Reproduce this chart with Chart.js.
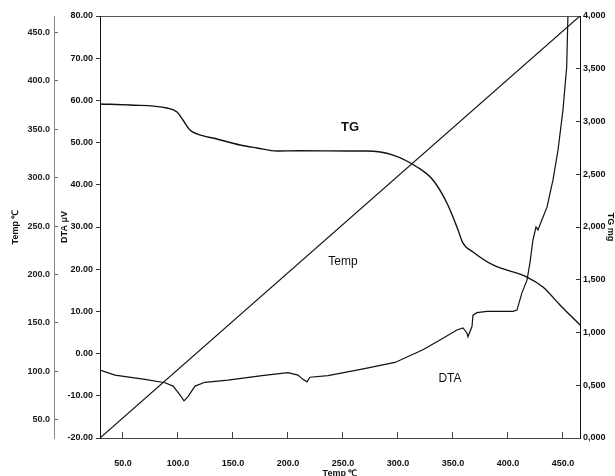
<!DOCTYPE html>
<html>
<head>
<meta charset="utf-8">
<script src="https://cdn.jsdelivr.net/npm/chart.js@4.4.1/dist/chart.umd.min.js"></script>
<style>
  html, body { margin: 0; padding: 0; background: #fff; }
  #chart { display: block; }
</style>
</head>
<body>
<canvas id="chart" width="615" height="476"></canvas>
<script>
// TG curve (right axis, mg)
let tgTemp = [29.1, 56.4, 90.0, 99.1, 104.5, 110.9, 117.3, 135.5, 156.4, 171.8, 190.0, 210.9, 256.4,
              271.8, 295.5, 317.3, 331.8, 344.5, 353.6, 359.1, 368.2, 386.4, 417.3, 431.8, 447.3, 465.5]
let tgMass = [3.166, 3.156, 3.128, 3.09, 3.014, 2.919, 2.882, 2.834, 2.777, 2.749, 2.720, 2.723, 2.720,
              2.720, 2.682, 2.569, 2.445, 2.227, 2.0, 1.848, 1.763, 1.64, 1.526, 1.431, 1.261, 1.071]

// DTA curve (left axis, uV)
let dtaTemp = [29.1, 42.7, 70.0, 88.2, 95.5, 101.8, 105.5, 109.1, 115.5, 124.5, 145.5, 176.4, 200.0,
               209.1, 213.6, 217.3, 220.0, 236.4, 267.3, 297.3, 322.7, 338.2, 353.6, 359.1, 362.7, 363.6,
               367.3, 368.2, 371.8, 380.9, 404.5, 408.2, 412.7, 417.3, 420.0, 422.7, 425.5, 427.3, 430.9,
               435.5, 440.9, 445.5, 450.0, 453.4, 454.5]
let dtaSignal = [-3.9, -5.1, -6.1, -6.9, -7.7, -9.8, -11.2, -10.2, -7.7, -6.8, -6.3, -5.2, -4.5,
                 -5.1, -6.1, -6.7, -5.6, -5.2, -3.7, -2.1, 0.9, 3.2, 5.6, 6.1, 4.9, 4.0,
                 6.4, 9.1, 9.7, 10.0, 10.0, 10.3, 14.4, 17.4, 21.5, 26.9, 30.0, 29.3, 31.7,
                 34.7, 41.1, 48.2, 57.7, 67.9, 79.8]

// furnace temperature line (outer left axis)
let lineTemp = [29.1, 465.5]
let lineFurnace = [31, 467]

// tick labels
let tempTicks = [50, 100, 150, 200, 250, 300, 350, 400, 450]
let dtaTicks = [-20, -10, 0, 10, 20, 30, 40, 50, 60, 70, 80]
let tgTicks = [0, 0.5, 1, 1.5, 2, 2.5, 3, 3.5, 4]

// curve names written in the plot (temp, DTA value)
let noteText = ["TG", "Temp", "DTA"]
let noteTemp = [256.4, 250.0, 347.3]
let noteDTA = [53.7, 21.7, -6.0]

const ink = "#111"
const tickFont = { family: "'Liberation Sans Narrow', 'Liberation Sans', Arial, sans-serif", size: 9, weight: "bold" }
const titleFont = { family: "'Liberation Sans', Arial, sans-serif", size: 9, weight: "bold" }

function toPoints(xs, ys){
    return xs.map((x, i) => ({ x: x, y: ys[i] }))
}

function fixedTicks(list){
    return scale => { scale.ticks = list.map(v => ({ value: v })) }
}

const curveLabels = {
    id: "curveLabels",
    afterDatasetsDraw(chart){
        const ctx = chart.ctx
        const xs = chart.scales.x, ys = chart.scales.yDTA
        ctx.save()
        ctx.fillStyle = ink
        ctx.textAlign = "center"
        ctx.textBaseline = "middle"
        for (var i in noteText){
            ctx.font = (noteText[i] == "TG" ? "bold 13px " : "12px ") + "'Liberation Sans Narrow', 'Liberation Sans', Arial, sans-serif"
            ctx.fillText(noteText[i], xs.getPixelForValue(noteTemp[i]), ys.getPixelForValue(noteDTA[i]))
        }
        ctx.restore()
    }
}

function showGraph(){
    new Chart("chart", {
        type: "line",
        data: {
            datasets: [
                { label: "TG", data: toPoints(tgTemp, tgMass), xAxisID: "x", yAxisID: "yTG",
                  borderColor: ink, borderWidth: 1.4, pointRadius: 0, cubicInterpolationMode: "monotone" },
                { label: "DTA", data: toPoints(dtaTemp, dtaSignal), xAxisID: "x", yAxisID: "yDTA",
                  borderColor: ink, borderWidth: 1.2, pointRadius: 0, tension: 0 },
                { label: "Temp", data: toPoints(lineTemp, lineFurnace), xAxisID: "x", yAxisID: "yTemp",
                  borderColor: ink, borderWidth: 1.2, pointRadius: 0 }
            ]
        },
        options: {
            responsive: false,
            animation: false,
            devicePixelRatio: 1,
            layout: { padding: { top: 16, left: 0, right: 0, bottom: 0 } },
            plugins: { legend: { display: false }, tooltip: { enabled: false } },
            scales: {
                x: {
                    type: "linear", position: "bottom", min: 29.1, max: 465.5,
                    afterBuildTicks: fixedTicks(tempTicks),
                    afterFit: s => { s.height = 38 },
                    ticks: { color: ink, font: tickFont, padding: 26, maxRotation: 0, autoSkip: false,
                             callback: v => v.toFixed(1) },
                    grid: { drawOnChartArea: false, tickLength: -6, color: "#444" },
                    border: { color: "#444", width: 1 },
                    title: { display: true, text: "Temp ℃", color: ink, font: titleFont, padding: { top: 0, bottom: -3 } }
                },
                xTop: {
                    type: "linear", position: "top", min: 29.1, max: 465.5,
                    ticks: { display: false },
                    grid: { display: false, drawTicks: false },
                    border: { display: true, color: "#555", dash: [4, 2] },
                    afterFit: s => { s.height = 0 }
                },
                yTemp: {
                    type: "linear", position: "left", weight: 1, min: 31, max: 467,
                    afterBuildTicks: fixedTicks(tempTicks),
                    afterFit: s => { s.width = 54 },
                    ticks: { color: "#222", font: tickFont, padding: 8, autoSkip: false, callback: v => v.toFixed(1) },
                    grid: { drawOnChartArea: false, tickLength: -4, color: "#666" },
                    border: { color: "#888", dash: [2, 3] },
                    title: { display: true, text: "Temp ℃", color: ink, font: titleFont, padding: { top: 10 } }
                },
                yDTA: {
                    type: "linear", position: "left", weight: 0, min: -20, max: 80,
                    afterBuildTicks: fixedTicks(dtaTicks),
                    afterFit: s => { s.width = 46 },
                    ticks: { color: ink, font: tickFont, padding: 3, autoSkip: false, callback: v => v.toFixed(2) },
                    grid: { drawOnChartArea: false, tickLength: 4, color: "#333" },
                    border: { color: ink },
                    title: { display: true, text: "DTA μV", color: ink, font: titleFont, padding: { top: 5 } }
                },
                yTG: {
                    type: "linear", position: "right", min: 0, max: 4,
                    afterBuildTicks: fixedTicks(tgTicks),
                    afterFit: s => { s.width = 35 },
                    ticks: { color: ink, font: tickFont, padding: 7, autoSkip: false,
                             callback: v => v.toFixed(3).replace(".", ",") },
                    grid: { drawOnChartArea: false, tickLength: -4, color: "#333" },
                    border: { color: ink },
                    title: { display: true, text: "TG mg", color: ink, font: titleFont, padding: { top: -1 } }
                }
            }
        },
        plugins: [curveLabels]
    })
}

showGraph()
</script>
</body>
</html>
